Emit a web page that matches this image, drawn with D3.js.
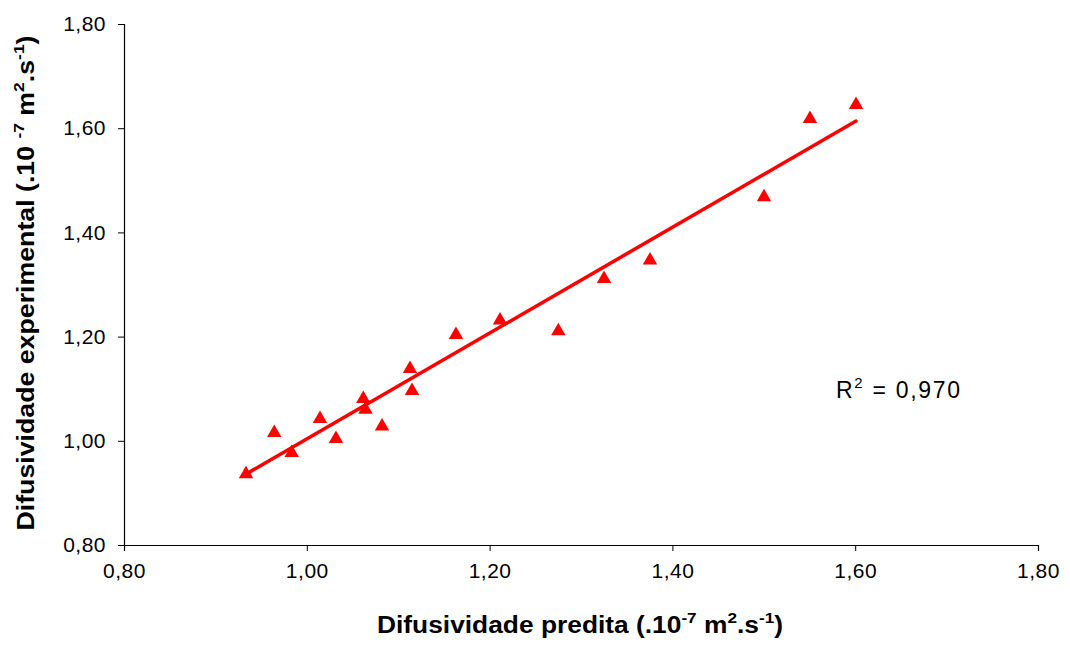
<!DOCTYPE html>
<html>
<head>
<meta charset="utf-8">
<script src="https://cdn.jsdelivr.net/npm/d3@7"></script>
<style>
  html, body { margin: 0; padding: 0; background: #fff; }
  svg { display: block; }
  text { font-family: "Liberation Sans", Arial, sans-serif; }
</style>
</head>
<body>
<svg id="chart" width="1070" height="645"></svg>
<script>
// Predicted vs experimental diffusivity (x10^-7 m²/s)
const predicted = [0.9335, 0.9644, 0.9835, 1.0144, 1.0319, 1.0618, 1.0642, 1.0823, 1.1129,
                   1.1151, 1.1632, 1.2114, 1.2752, 1.3252, 1.3755, 1.5002, 1.5505, 1.6009];
const experimental = [0.9401, 1.0194, 0.9810, 1.0463, 1.0079, 1.0846, 1.0639, 1.0317, 1.1422,
                      1.1000, 1.2075, 1.2351, 1.2146, 1.3150, 1.3503, 1.4718, 1.6221, 1.6489];
const tickValues = [0.8, 1.0, 1.2, 1.4, 1.6, 1.8];
const r2Label = "0,970";

const svg = d3.select("#chart");
const x = d3.scaleLinear().domain([0.8, 1.8]).range([124, 1038]);
const y = d3.scaleLinear().domain([0.8, 1.8]).range([545, 24]);
const fmt = v => d3.format(".2f")(v).replace(".", ",");

// Axes
const xAxis = svg.append("g").attr("transform", `translate(0,${y(0.8)})`)
  .call(d3.axisBottom(x).tickValues(tickValues).tickFormat(fmt).tickSizeOuter(0).tickSize(6).tickPadding(12));
const yAxis = svg.append("g").attr("transform", `translate(${x(0.8)},0)`)
  .call(d3.axisLeft(y).tickValues(tickValues).tickFormat(fmt).tickSizeOuter(0).tickSize(6).tickPadding(12));
[xAxis, yAxis].forEach(g => {
  g.attr("font-size", 21).attr("font-family", "'Liberation Sans', Arial, sans-serif");
  g.select(".domain").attr("stroke", "#000").attr("stroke-width", 1.2);
  g.selectAll(".tick line").attr("stroke", "#000").attr("stroke-width", 1);
  g.selectAll(".tick text").attr("fill", "#000").style("letter-spacing", "0.5px");
});

// Least-squares fit
const n = predicted.length;
const mx = d3.mean(predicted), my = d3.mean(experimental);
let sxy = 0, sxx = 0;
for (let i = 0; i < n; i++) {
  sxy += (predicted[i] - mx) * (experimental[i] - my);
  sxx += (predicted[i] - mx) ** 2;
}
const slope = sxy / sxx, intercept = my - slope * mx;
const xMin = d3.min(predicted), xMax = d3.max(predicted);
svg.append("line")
  .attr("x1", x(xMin)).attr("y1", y(intercept + slope * xMin))
  .attr("x2", x(xMax)).attr("y2", y(intercept + slope * xMax))
  .attr("stroke", "#ff0000").attr("stroke-width", 3.5).attr("stroke-linecap", "round");

// Points: upward triangle centred on its bounding box
const boxTriangle = {
  draw(context, size) {
    const s = Math.sqrt(size * 4 / Math.sqrt(3));
    const h = s * Math.sqrt(3) / 2;
    context.moveTo(0, -h / 2);
    context.lineTo(s / 2, h / 2);
    context.lineTo(-s / 2, h / 2);
    context.closePath();
  }
};
const tri = d3.symbol().type(boxTriangle).size(90);
svg.append("g").selectAll("path")
  .data(predicted.map((p, i) => [p, experimental[i]]))
  .join("path")
  .attr("d", tri)
  .attr("transform", d => `translate(${x(d[0])},${y(d[1])})`)
  .attr("fill", "#ff0000");

// R² annotation
const r2 = svg.append("text").attr("x", 836).attr("y", 398)
  .style("font-size", "23px").attr("fill", "#000")
  .attr("textLength", 124).attr("lengthAdjust", "spacing");
r2.append("tspan").text("R");
r2.append("tspan").attr("dy", -10).style("font-size", "15px").text("2");
r2.append("tspan").attr("dy", 10).text(" = " + r2Label);

// X axis title
const xt = svg.append("text").attr("x", 580).attr("y", 633)
  .attr("text-anchor", "middle").style("font-size", "23px").style("font-weight", "bold")
  .attr("textLength", 406).attr("lengthAdjust", "spacingAndGlyphs");
xt.append("tspan").text("Difusividade predita (.10");
xt.append("tspan").attr("dy", -10).style("font-size", "15px").text("-7");
xt.append("tspan").attr("dy", 10).text(" m");
xt.append("tspan").attr("dy", -10).style("font-size", "15px").text("2");
xt.append("tspan").attr("dy", 10).text(".s");
xt.append("tspan").attr("dy", -10).style("font-size", "15px").text("-1");
xt.append("tspan").attr("dy", 10).text(")");

// Y axis title
const yt = svg.append("text")
  .attr("transform", "translate(34,283) rotate(-90)")
  .attr("text-anchor", "middle").style("font-size", "23px").style("font-weight", "bold")
  .attr("textLength", 495).attr("lengthAdjust", "spacingAndGlyphs");
yt.append("tspan").text("Difusividade experimental (.10 ");
yt.append("tspan").attr("dy", -10).style("font-size", "15px").text("-7");
yt.append("tspan").attr("dy", 10).text(" m");
yt.append("tspan").attr("dy", -10).style("font-size", "15px").text("2");
yt.append("tspan").attr("dy", 10).text(".s");
yt.append("tspan").attr("dy", -10).style("font-size", "15px").text("-1");
yt.append("tspan").attr("dy", 10).text(")");
</script>
</body>
</html>
